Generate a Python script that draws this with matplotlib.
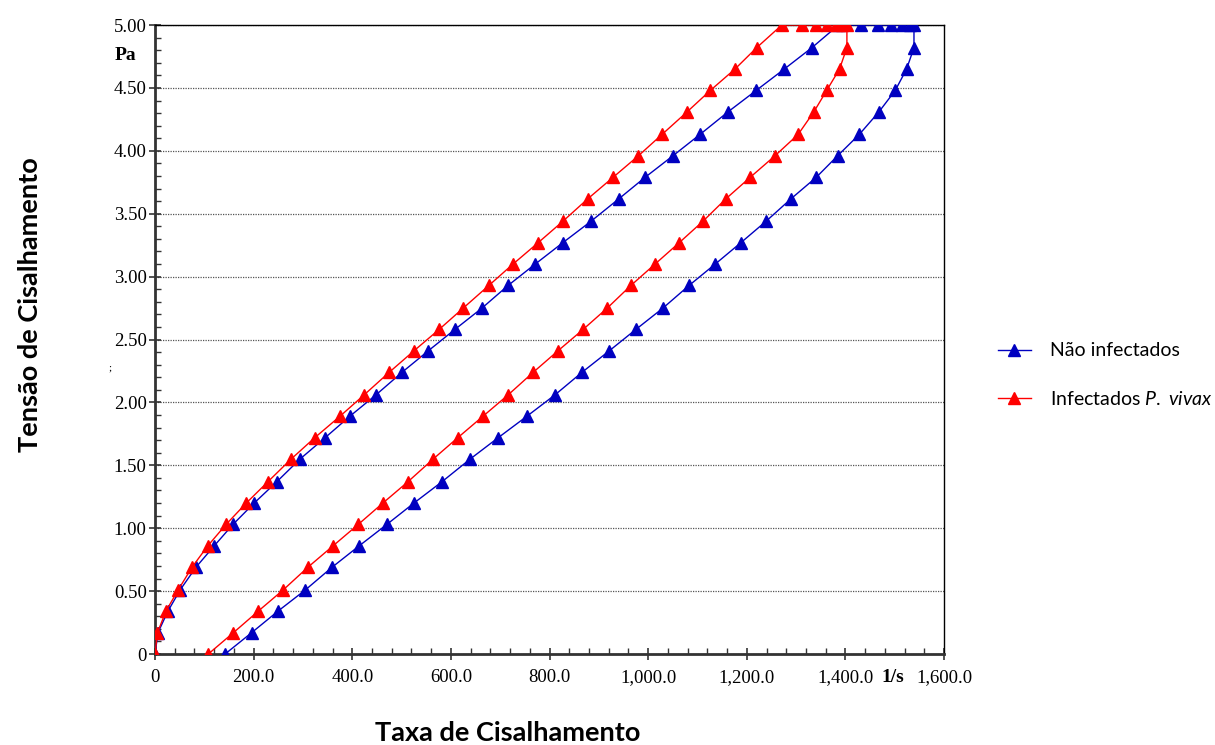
import matplotlib
matplotlib.use('Agg')
import matplotlib.pyplot as plt
from matplotlib.ticker import MultipleLocator, FuncFormatter
import matplotlib.transforms as mtransforms

# shear stress steps (Pa), up ramp then down ramp
tau_up = [0, 0.17, 0.34, 0.51, 0.69, 0.86, 1.03, 1.20, 1.37, 1.55, 1.72, 1.89, 2.06,
          2.24, 2.41, 2.58, 2.75, 2.93, 3.10, 3.27, 3.44, 3.62, 3.79, 3.96, 4.13,
          4.31, 4.48, 4.65, 4.82, 5.00]
tau_hold = [5.00] * 6
tau_down = tau_up[::-1][1:]

# shear rate (1/s) - uninfected
nao_up = [0, 6, 26, 51, 83, 120, 158, 201, 247, 294, 345, 395, 448, 501, 554, 608,
          663, 716, 771, 827, 884, 941, 994, 1050, 1105, 1162, 1219, 1276, 1332, 1386]
nao_hold = [1432, 1466, 1493, 1515, 1530, 1539]
nao_down = [1539, 1524, 1501, 1468, 1428, 1384, 1341, 1290, 1239, 1188, 1136, 1083,
            1030, 975, 921, 866, 811, 754, 696, 639, 582, 525, 470, 414, 359, 305,
            249, 196, 142]

# shear rate (1/s) - P. vivax infected
viv_up = [0, 5, 22, 47, 75, 107, 144, 185, 229, 276, 324, 375, 424, 475, 525, 576,
          625, 677, 726, 777, 827, 878, 929, 980, 1028, 1079, 1126, 1176, 1220, 1271]
viv_hold = [1311, 1340, 1363, 1381, 1393, 1403]
viv_down = [1403, 1388, 1362, 1336, 1304, 1257, 1207, 1158, 1111, 1063, 1014, 965,
            917, 868, 817, 767, 716, 665, 614, 564, 513, 462, 412, 361, 310, 260,
            209, 159, 108]

x_ticks = [0, 200, 400, 600, 800, 1000, 1200, 1400, 1600]
y_ticks = [0, 0.5, 1.0, 1.5, 2.0, 2.5, 3.0, 3.5, 4.0, 4.5, 5.0]

plt.rcParams['mathtext.fontset'] = 'custom'
plt.rcParams['mathtext.rm'] = 'Lato'
plt.rcParams['mathtext.it'] = 'Lato:italic'

fig = plt.figure(figsize=(12.15, 7.45), dpi=100)
ax = fig.add_axes([0.1276, 0.1221, 0.777 - 0.1276, 0.9664 - 0.1221])

blue = '#0000C0'
red = '#FF0000'
tau = tau_up + tau_hold + tau_down
ax.plot(nao_up + nao_hold + nao_down, tau, color=blue, lw=1, marker='^',
        ms=8, label='Não infectados', zorder=3)
ax.plot(viv_up + viv_hold + viv_down, tau, color=red, lw=1, marker='^',
        ms=8, label='Infectados $\\it{P.}$ $\\it{vivax}$', zorder=3)

ax.set_xlim(0, 1600)
ax.set_ylim(0, 5)
ax.set_xticks(x_ticks)
ax.set_yticks(y_ticks)
ax.xaxis.set_minor_locator(MultipleLocator(40))
ax.yaxis.set_minor_locator(MultipleLocator(0.1))
ax.xaxis.set_major_formatter(FuncFormatter(lambda v, p: '0' if v == 0 else '{:,.1f}'.format(v)))
ax.yaxis.set_major_formatter(FuncFormatter(lambda v, p: '0' if v == 0 else '{:.2f}'.format(v)))
for lbl in ax.get_xticklabels() + ax.get_yticklabels():
    lbl.set_fontfamily('Liberation Serif')
    lbl.set_fontsize(13.5)
ax.tick_params(which='major', direction='inout', length=8, width=1.2, color='#333333')
ax.tick_params(which='minor', direction='in', length=4, width=1, color='#333333')
ax.tick_params(axis='x', pad=7)
ax.tick_params(axis='y', pad=2)

ax.grid(True, axis='y', which='major', color='#555555', linestyle=(0, (1, 1)), lw=0.9)
ax.set_axisbelow(True)

for s in ['left', 'bottom']:
    ax.spines[s].set_linewidth(2)
    ax.spines[s].set_color('#333333')
for s in ['top', 'right']:
    ax.spines[s].set_linewidth(1)
    ax.spines[s].set_color('black')

# unit labels on the axes
ytr = mtransforms.blended_transform_factory(fig.transFigure, ax.transData)
fig.text(125 / 1215, 4.76, 'Pa', transform=ytr, ha='center', va='center',
         fontfamily='Liberation Serif', fontweight='bold', fontsize=14)
xtr = mtransforms.blended_transform_factory(ax.transData, fig.transFigure)
fig.text(1497, 1 - 677 / 745, '1/s', transform=xtr, ha='center', va='center',
         fontfamily='Liberation Serif', fontweight='bold', fontsize=14)
fig.text(110 / 1215, 1 - 368 / 745, ';', ha='center', va='center',
         fontfamily='Liberation Serif', fontsize=8)

fig.text(30 / 1215, 1 - 305 / 745, 'Tensão de Cisalhamento', rotation=90,
         ha='center', va='center', fontfamily='Lato', fontweight='bold', fontsize=19.5)
fig.text(508 / 1215, 1 - 733 / 745, 'Taxa de Cisalhamento',
         ha='center', va='center', fontfamily='Lato', fontweight='bold', fontsize=19.5)

leg = ax.legend(loc='center left', bbox_to_anchor=(980 / 1215, 1 - 375 / 745),
                bbox_transform=fig.transFigure, frameon=False,
                prop={'family': 'Lato', 'size': 14}, labelspacing=1.55,
                handlelength=1.7, handletextpad=1.0)

fig.savefig('out.png', dpi=100)
